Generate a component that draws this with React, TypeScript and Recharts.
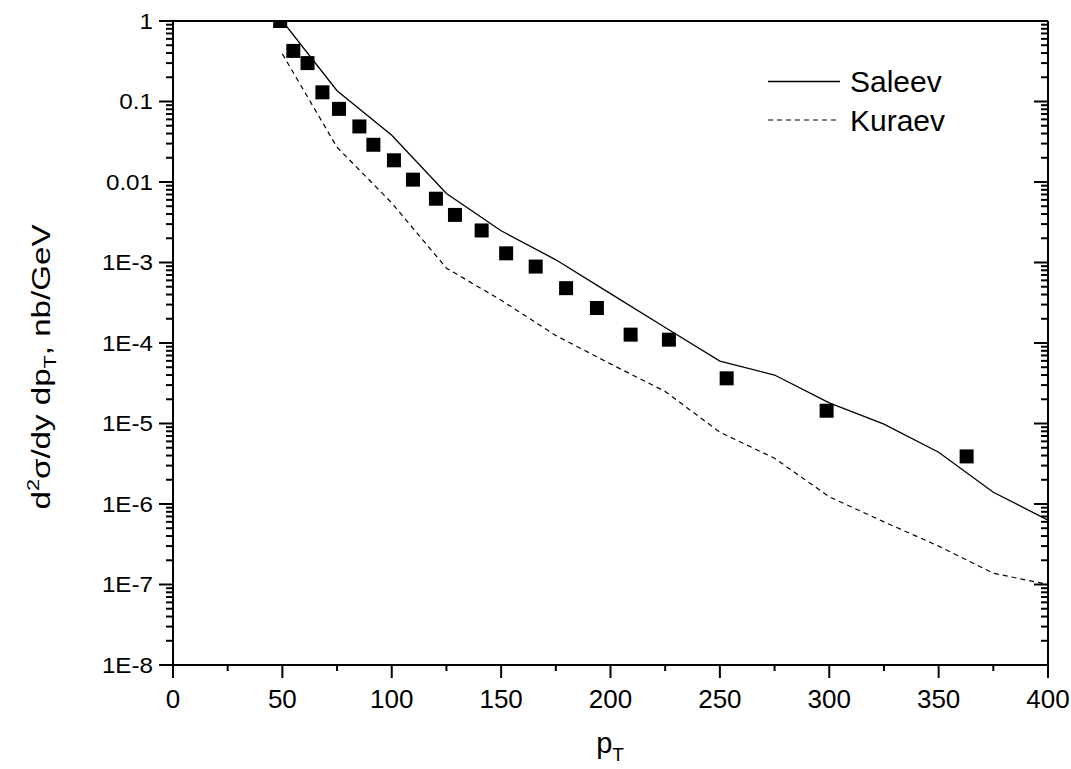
import React from 'react';
import { ComposedChart, Line, Scatter, XAxis, YAxis, Legend } from 'recharts';

// theory curves, sampled every 25 GeV
const curvePt = [50, 75, 100, 125, 150, 175, 200, 225, 250, 275, 300, 325, 350, 375, 400];
const saleevXsec = [1.0, 0.136, 0.038, 0.0072, 0.00248, 0.00108, 4.1e-4, 1.56e-4, 5.96e-5, 4.0e-5, 1.8e-5, 9.8e-6, 4.4e-6, 1.4e-6, 6.3e-7];
const kuraevXsec = [0.39, 0.027, 0.0055, 0.00085, 3.4e-4, 1.24e-4, 5.5e-5, 2.5e-5, 7.8e-6, 3.7e-6, 1.23e-6, 6.0e-7, 3.0e-7, 1.38e-7, 1.0e-7];

// measured points
const dataPt = [49, 55, 61.5, 68.3, 75.9, 85.2, 91.6, 101, 109.7, 120.2, 128.9, 141.1, 152.3, 165.8, 179.7, 193.8, 209.2, 226.7, 253.1, 298.8, 362.8];
const dataXsec = [1.0, 0.425, 0.3, 0.13, 0.081, 0.049, 0.029, 0.0186, 0.0107, 0.0062, 0.0039, 0.0025, 0.0013, 0.00089, 0.00048, 0.000272, 0.000127, 0.00011, 3.64e-5, 1.44e-5, 3.9e-6];

const xTicks = [0, 25, 50, 75, 100, 125, 150, 175, 200, 225, 250, 275, 300, 325, 350, 375, 400];
const decadeTicks = [1, 0.1, 0.01, 1e-3, 1e-4, 1e-5, 1e-6, 1e-7, 1e-8];
const yTicks = decadeTicks.concat(
  decadeTicks.slice(1).flatMap((d) => [2, 3, 4, 5, 6, 7, 8, 9].map((k) => k * d))
);

const saleevRows = curvePt.map((x, i) => ({ x, y: saleevXsec[i] }));
const kuraevRows = curvePt.map((x, i) => ({ x, y: kuraevXsec[i] }));
const pointRows = dataPt.map((x, i) => ({ x, y: dataXsec[i] }));

const FONT = '"Liberation Sans", Arial, Helvetica, sans-serif';

const isDecade = (v: number) => Math.abs(Math.log10(v) - Math.round(Math.log10(v))) < 1e-6;
const isMajorX = (v: number) => v % 50 === 0;

const fmtY = (v: number) => {
  const e = Math.round(Math.log10(v));
  if (e === 0) return '1';
  if (e === -1) return '0.1';
  if (e === -2) return '0.01';
  return `1E${e}`;
};

const LeftTick = ({ x, y, payload }: any) => {
  const major = isDecade(payload.value);
  return (
    <g>
      <line x1={x} y1={y} x2={x - (major ? 14 : 7)} y2={y} stroke="#000" strokeWidth={2} />
      {major && (
        <text
          transform={`translate(${x - 20},${y}) scale(1.1,1)`}
          textAnchor="end"
          dy="0.36em"
          fontSize={22}
          fontFamily={FONT}
          fill="#000"
        >
          {fmtY(payload.value)}
        </text>
      )}
    </g>
  );
};

const RightTick = ({ x, y, payload }: any) => {
  const major = isDecade(payload.value);
  return <line x1={x} y1={y} x2={x - (major ? 14 : 7)} y2={y} stroke="#000" strokeWidth={2} />;
};

const BottomTick = ({ x, y, payload }: any) => {
  const major = isMajorX(payload.value);
  return (
    <g>
      <line x1={x} y1={y} x2={x} y2={y + (major ? 13 : 6)} stroke="#000" strokeWidth={2} />
      {major && (
        <text x={x} y={y + 43} textAnchor="middle" fontSize={26} fontFamily={FONT} fill="#000">
          {payload.value}
        </text>
      )}
    </g>
  );
};

const TopTick = ({ x, y, payload }: any) => {
  const major = isMajorX(payload.value);
  return <line x1={x} y1={y} x2={x} y2={y + (major ? 13 : 6)} stroke="#000" strokeWidth={2} />;
};

const YTitle = () => (
  <text
    transform="translate(50,367) rotate(-90)"
    textAnchor="middle"
    fontSize={26}
    fontFamily={FONT}
    fill="#000"
    textLength={285}
    lengthAdjust="spacingAndGlyphs"
  >
    d
    <tspan fontSize={17} dy={-11}>2</tspan>
    <tspan dy={11}>σ/dy dp</tspan>
    <tspan fontSize={17} dy={6}>T</tspan>
    <tspan dy={-6}>, nb/GeV</tspan>
  </text>
);

const XTitle = () => (
  <text x={610} y={753} textAnchor="middle" fontSize={29} fontFamily={FONT} fill="#000">
    p<tspan fontSize={19} dy={8}>T</tspan>
  </text>
);

const LegendBox = () => (
  <svg width={230} height={90} style={{ display: 'block' }}>
    <line x1={8} y1={26.5} x2={80} y2={26.5} stroke="#000" strokeWidth={1.3} />
    <text x={90} y={37} fontSize={30} fontFamily={FONT} fill="#000">Saleev</text>
    <line x1={8} y1={65} x2={80} y2={65} stroke="#000" strokeWidth={1.2} strokeDasharray="5 4" />
    <text x={90} y={75.5} fontSize={30} fontFamily={FONT} fill="#000">Kuraev</text>
  </svg>
);

const Square = ({ cx, cy }: any) => <rect x={cx - 7} y={cy - 7} width={14} height={14} fill="#000" />;

export default function App() {
  return (
    <div style={{ position: 'absolute', left: 0, top: 0, background: '#fff' }}>
      <ComposedChart width={1071} height={769} margin={{ top: 20, right: 22, bottom: 0, left: 0 }}>
        <XAxis
          xAxisId="b"
          type="number"
          dataKey="x"
          domain={[0, 400]}
          ticks={xTicks}
          interval={0}
          height={104}
          tickSize={0}
          tickMargin={0}
          tickLine={false}
          axisLine={{ stroke: '#000', strokeWidth: 2 }}
          tick={<BottomTick />}
          label={<XTitle />}
        />
        <XAxis
          xAxisId="t"
          orientation="top"
          type="number"
          dataKey="x"
          domain={[0, 400]}
          ticks={xTicks}
          interval={0}
          height={1}
          tickSize={0}
          tickMargin={0}
          tickLine={false}
          axisLine={{ stroke: '#000', strokeWidth: 2 }}
          tick={<TopTick />}
        />
        <YAxis
          yAxisId="l"
          type="number"
          scale="log"
          domain={[1e-8, 1]}
          allowDataOverflow
          ticks={yTicks}
          interval={0}
          width={173}
          tickSize={0}
          tickMargin={0}
          tickLine={false}
          axisLine={{ stroke: '#000', strokeWidth: 2 }}
          tick={<LeftTick />}
          label={<YTitle />}
        />
        <YAxis
          yAxisId="r"
          orientation="right"
          type="number"
          scale="log"
          domain={[1e-8, 1]}
          allowDataOverflow
          ticks={yTicks}
          interval={0}
          width={1}
          tickSize={0}
          tickMargin={0}
          tickLine={false}
          axisLine={{ stroke: '#000', strokeWidth: 2 }}
          tick={<RightTick />}
        />
        <Legend
          layout="vertical"
          align="center"
          verticalAlign="middle"
          wrapperStyle={{ position: 'absolute', left: 760, top: 55, width: 230 }}
          content={<LegendBox />}
        />
        <Line
          xAxisId="b"
          yAxisId="l"
          data={saleevRows}
          dataKey="y"
          name="Saleev"
          type="linear"
          stroke="#000"
          strokeWidth={1.3}
          dot={false}
          isAnimationActive={false}
        />
        <Line
          xAxisId="b"
          yAxisId="l"
          data={kuraevRows}
          dataKey="y"
          name="Kuraev"
          type="linear"
          stroke="#000"
          strokeWidth={1.2}
          strokeDasharray="5 4"
          dot={false}
          isAnimationActive={false}
        />
        <Scatter
          xAxisId="b"
          yAxisId="l"
          data={pointRows}
          dataKey="y"
          fill="#000"
          shape={<Square />}
          isAnimationActive={false}
        />
      </ComposedChart>
    </div>
  );
}
